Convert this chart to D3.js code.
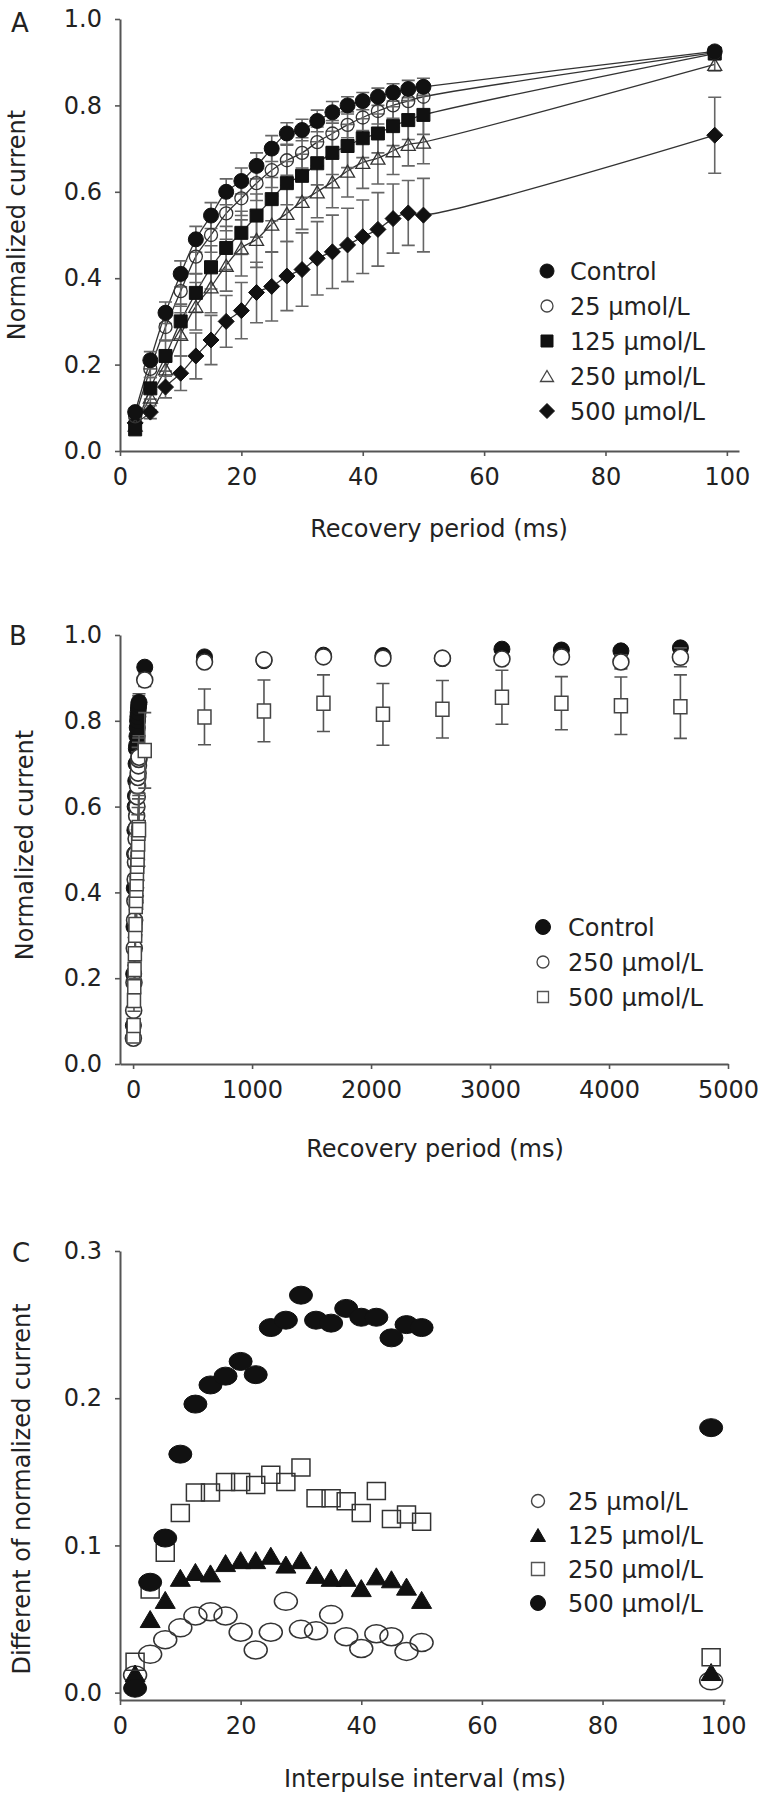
<!DOCTYPE html>
<html><head><meta charset="utf-8">
<script src="https://cdn.jsdelivr.net/npm/d3@7"></script>
<style>
body{margin:0;background:#fff}
svg{display:block;background:#fff}
text{font-family:"DejaVu Sans",sans-serif;fill:#222}
</style>
</head><body>
<svg id="chart" width="762" height="1795"></svg>
<script>
// ---------- Panel A data ----------
const aX = [2.5,5,7.5,10,12.5,15,17.5,20,22.5,25,27.5,30,32.5,35,37.5,40,42.5,45,47.5,50,98];
const aControl = [0.09,0.21,0.32,0.41,0.49,0.545,0.60,0.625,0.66,0.70,0.735,0.743,0.764,0.784,0.80,0.81,0.82,0.83,0.838,0.843,0.925];
const aControlErr = [0.01,0.02,0.025,0.03,0.03,0.03,0.03,0.03,0.03,0.03,0.025,0.025,0.025,0.025,0.02,0.02,0.02,0.02,0.02,0.02,0.01];
const a25 = [0.08,0.19,0.287,0.37,0.45,0.50,0.55,0.585,0.62,0.65,0.673,0.69,0.715,0.735,0.755,0.772,0.787,0.80,0.81,0.82,0.922];
const a25Err = [0.01,0.02,0.03,0.035,0.04,0.04,0.04,0.04,0.04,0.04,0.035,0.035,0.035,0.03,0.03,0.03,0.03,0.03,0.03,0.03,0.01];
const a125 = [0.05,0.145,0.22,0.30,0.366,0.425,0.47,0.505,0.545,0.583,0.62,0.637,0.666,0.69,0.706,0.724,0.735,0.752,0.766,0.778,0.92];
const a125Err = [0.01,0.025,0.035,0.04,0.045,0.05,0.05,0.05,0.05,0.05,0.05,0.05,0.05,0.05,0.05,0.045,0.045,0.045,0.045,0.045,0.01];
const a250 = [0.06,0.125,0.19,0.27,0.335,0.38,0.43,0.47,0.49,0.525,0.55,0.578,0.60,0.623,0.648,0.668,0.678,0.695,0.71,0.715,0.895];
const a250Err = [0.01,0.03,0.04,0.05,0.055,0.06,0.06,0.065,0.065,0.065,0.065,0.065,0.06,0.06,0.06,0.06,0.06,0.055,0.05,0.05,0.015];
const a500 = [0.065,0.09,0.148,0.18,0.22,0.257,0.30,0.325,0.367,0.381,0.405,0.42,0.446,0.461,0.477,0.496,0.513,0.538,0.551,0.546,0.731];
const a500Err = [0.01,0.015,0.025,0.04,0.053,0.057,0.06,0.065,0.07,0.08,0.08,0.085,0.085,0.085,0.085,0.085,0.085,0.08,0.075,0.085,0.088];
const aLabels = ["Control","25 µmol/L","125 µmol/L","250 µmol/L","500 µmol/L"];
const aXTicks = [0,20,40,60,80,100];
const aYTicks = [0,0.2,0.4,0.6,0.8,1.0];

// ---------- Panel B data ----------
const bLongX = [600,1100,1600,2100,2600,3100,3600,4100,4600];
const bControlLong = [0.949,0.94,0.953,0.952,0.945,0.967,0.965,0.963,0.97];
const bControlLongErr = [0.005,0.005,0.005,0.005,0.005,0.005,0.005,0.005,0.005];
const b250Long = [0.937,0.942,0.949,0.946,0.946,0.944,0.949,0.937,0.948];
const b250LongErr = [0.008,0.006,0.008,0.006,0.006,0.01,0.01,0.016,0.022];
const b500Long = [0.809,0.823,0.841,0.815,0.827,0.855,0.841,0.835,0.833];
const b500LongErr = [0.065,0.072,0.066,0.072,0.067,0.063,0.062,0.067,0.074];
const bLabels = ["Control","250 µmol/L","500 µmol/L"];
const bXTicks = [0,1000,2000,3000,4000,5000];
const bYTicks = [0,0.2,0.4,0.6,0.8,1.0];

// ---------- Panel C data ----------
const cX = [2.5,5,7.5,10,12.5,15,17.5,20,22.5,25,27.5,30,32.5,35,37.5,40,42.5,45,47.5,50,98];
const c25 = [0.012,0.026,0.036,0.044,0.052,0.055,0.052,0.041,0.029,0.041,0.062,0.043,0.042,0.053,0.038,0.030,0.040,0.038,0.028,0.034,0.008];
const c125 = [0.013,0.05,0.063,0.078,0.082,0.081,0.088,0.090,0.090,0.093,0.087,0.090,0.080,0.078,0.078,0.071,0.079,0.077,0.072,0.063,0.014];
const c250 = [0.021,0.07,0.095,0.122,0.136,0.136,0.143,0.143,0.141,0.148,0.143,0.153,0.132,0.132,0.130,0.122,0.137,0.118,0.121,0.116,0.024];
const c500 = [0.003,0.075,0.105,0.162,0.196,0.209,0.215,0.225,0.216,0.248,0.253,0.270,0.253,0.251,0.261,0.255,0.255,0.241,0.250,0.248,0.180];
const cLabels = ["25 µmol/L","125 µmol/L","250 µmol/L","500 µmol/L"];
const cXTicks = [0,20,40,60,80,100];
const cYTicks = [0,0.1,0.2,0.3];

// ---------- helpers ----------
const svg = d3.select('#chart');
const FONT = '"DejaVu Sans", sans-serif';

function markerPath(shape, w, h){
  const a=w/2, b=h/2;
  switch(shape){
    case 'circle': return `M${-a},0A${a},${b} 0 1,0 ${a},0A${a},${b} 0 1,0 ${-a},0Z`;
    case 'square': return `M${-a},${-b}H${a}V${b}H${-a}Z`;
    case 'triangle': return `M0,${-b}L${a},${b}L${-a},${b}Z`;
    case 'diamond': return `M0,${-b}L${a},0L0,${b}L${-a},0Z`;
  }
}

function axes(xs, ys, xTicks, yTicks, xAxisY, yAxisX, fmtY){
  const gx = svg.append('g').attr('transform',`translate(0,${xAxisY})`)
    .call(d3.axisBottom(xs).tickValues(xTicks).tickFormat(d3.format('d')).tickSize(5).tickPadding(12).tickSizeOuter(0));
  const gy = svg.append('g').attr('transform',`translate(${yAxisX},0)`)
    .call(d3.axisLeft(ys).tickValues(yTicks).tickFormat(d3.format(fmtY)).tickSize(5).tickPadding(13).tickSizeOuter(0));
  [gx,gy].forEach(g=>{
    g.attr('font-size',24).attr('font-family',FONT);
    g.select('.domain').attr('stroke','#555').attr('stroke-width',2);
    g.selectAll('.tick line').attr('stroke','#555').attr('stroke-width',1.6);
    g.selectAll('.tick text').attr('fill','#222');
  });
}

function errorBars(g, xs, ys, xv, yv, ev, capW, color){
  const d = xv.map((x,i)=>({x, y:yv[i], e:ev[i]})).filter(p=>p.e>0);
  const eg = g.append('g').attr('stroke',color).attr('stroke-width',1.6).attr('fill','none');
  eg.selectAll('path').data(d).join('path')
    .attr('d', p=>{
      const cx = xs(p.x), y1 = ys(p.y+p.e), y2 = ys(p.y-p.e);
      return `M${cx},${y1}V${y2}M${cx-capW/2},${y1}H${cx+capW/2}M${cx-capW/2},${y2}H${cx+capW/2}`;
    });
}

function markers(g, xs, ys, xv, yv, st){
  g.append('g').selectAll('path').data(xv.map((x,i)=>({x, y:yv[i]}))).join('path')
    .attr('transform', p=>`translate(${xs(p.x)},${ys(p.y)})`)
    .attr('d', markerPath(st.shape, st.w, st.h))
    .attr('fill', st.fill).attr('stroke', st.stroke).attr('stroke-width', st.sw);
}

function legend(items, x, tx, y0, dy){
  items.forEach((it,i)=>{
    const y = y0 + i*dy;
    svg.append('path').attr('transform',`translate(${x},${y})`)
      .attr('d', markerPath(it.shape, it.w, it.h))
      .attr('fill', it.fill).attr('stroke', it.stroke).attr('stroke-width', it.sw);
    svg.append('text').attr('x', tx).attr('y', y).attr('dy','0.36em')
      .attr('font-size',24).attr('font-family',FONT).text(it.label);
  });
}

function yLabel(text, bx, cy){
  svg.append('text').attr('transform',`translate(${bx},${cy}) rotate(-90)`)
    .attr('text-anchor','middle').attr('font-size',24).attr('font-family',FONT).text(text);
}
function xLabel(text, cx, by){
  svg.append('text').attr('x',cx).attr('y',by).attr('text-anchor','middle')
    .attr('font-size',24).attr('font-family',FONT).text(text);
}
function panelLabel(t, x, y){
  svg.append('text').attr('x',x).attr('y',y).attr('font-size',26).attr('font-family',FONT).text(t);
}

// ---------- Panel A ----------
{
  const xs = d3.scaleLinear([0,102],[120,739]);
  const ys = d3.scaleLinear([0,1],[451,19]);
  axes(xs, ys, aXTicks, aYTicks, ys(0), xs(0), '.1f');
  const g = svg.append('g');
  const series = [
    {v:a500, e:a500Err, st:{shape:'diamond',w:16,h:16,fill:'#111',stroke:'#111',sw:1}},
    {v:a250, e:a250Err, st:{shape:'triangle',w:14,h:12,fill:'none',stroke:'#333',sw:1.3}},
    {v:a125, e:a125Err, st:{shape:'square',w:13,h:13,fill:'#111',stroke:'#111',sw:1}},
    {v:a25, e:a25Err, st:{shape:'circle',w:13,h:13,fill:'none',stroke:'#333',sw:1.3}},
    {v:aControl, e:aControlErr, st:{shape:'circle',w:15,h:15,fill:'#111',stroke:'#111',sw:1}}
  ];
  const line = d3.line().x((d,i)=>xs(aX[i])).y(d=>ys(d)).curve(d3.curveCatmullRom.alpha(0.5));
  series.forEach(s=> g.append('path').attr('d', line(s.v)).attr('fill','none').attr('stroke','#333').attr('stroke-width',1.3));
  series.forEach(s=> errorBars(g, xs, ys, aX, s.v, s.e, 13, '#666'));
  series.forEach(s=> markers(g, xs, ys, aX, s.v, s.st));
  const ls = series.slice().reverse();
  legend([
    {label:aLabels[0], shape:'circle', w:14,h:14, fill:'#111', stroke:'#111', sw:1},
    {label:aLabels[1], shape:'circle', w:12,h:12, fill:'none', stroke:'#444', sw:1.3},
    {label:aLabels[2], shape:'square', w:12,h:12, fill:'#111', stroke:'#111', sw:1},
    {label:aLabels[3], shape:'triangle', w:13,h:11, fill:'none', stroke:'#444', sw:1.3},
    {label:aLabels[4], shape:'diamond', w:15,h:15, fill:'#111', stroke:'#111', sw:1}
  ], 547, 570, 271, 35);
  yLabel('Normalized current', 25, 225);
  xLabel('Recovery period (ms)', 439, 537);
  panelLabel('A', 11, 32);
}

// ---------- Panel B ----------
{
  const xs = d3.scaleLinear([-110,5000],[120,728]);
  const ys = d3.scaleLinear([0,1],[1064,635]);
  axes(xs, ys, bXTicks, bYTicks, ys(0), xs(-110), '.1f');
  const g = svg.append('g');
  const xv = aX.concat(bLongX);
  const series = [
    {v:aControl.concat(bControlLong), e:aControlErr.concat(bControlLongErr), st:{shape:'circle',w:16,h:16,fill:'#111',stroke:'#111',sw:1}},
    {v:a250.concat(b250Long), e:a250Err.concat(b250LongErr), st:{shape:'circle',w:16,h:16,fill:'#fff',stroke:'#333',sw:1.6}},
    {v:a500.concat(b500Long), e:a500Err.concat(b500LongErr), st:{shape:'square',w:13,h:14,fill:'#fff',stroke:'#444',sw:1.5}}
  ];
  series.forEach(s=>{
    errorBars(g, xs, ys, xv, s.v, s.e, 13, '#555');
    markers(g, xs, ys, xv, s.v, s.st);
  });
  legend([
    {label:bLabels[0], shape:'circle', w:15,h:15, fill:'#111', stroke:'#111', sw:1},
    {label:bLabels[1], shape:'circle', w:12,h:12, fill:'#fff', stroke:'#444', sw:1.3},
    {label:bLabels[2], shape:'square', w:11,h:11, fill:'#fff', stroke:'#555', sw:1.3}
  ], 543, 568, 927, 35);
  yLabel('Normalized current', 33, 845);
  xLabel('Recovery period (ms)', 435, 1157);
  panelLabel('B', 9, 645);
}

// ---------- Panel C ----------
{
  const xs = d3.scaleLinear([0,100.3],[120,725]);
  const ys = d3.scaleLinear([-0.005,0.3],[1700,1251]);
  axes(xs, ys, cXTicks, cYTicks, 1700, 120, '.1f');
  const g = svg.append('g');
  markers(g, xs, ys, cX, c25, {shape:'circle',w:23,h:18,fill:'none',stroke:'#333',sw:1.5});
  markers(g, xs, ys, cX, c125, {shape:'triangle',w:20,h:17,fill:'#111',stroke:'#111',sw:1});
  markers(g, xs, ys, cX, c250, {shape:'square',w:18,h:17,fill:'none',stroke:'#333',sw:1.5});
  markers(g, xs, ys, cX, c500, {shape:'circle',w:23,h:18,fill:'#111',stroke:'#111',sw:1});
  legend([
    {label:cLabels[0], shape:'circle', w:13,h:13, fill:'none', stroke:'#444', sw:1.4},
    {label:cLabels[1], shape:'triangle', w:15,h:13, fill:'#111', stroke:'#111', sw:1},
    {label:cLabels[2], shape:'square', w:13,h:13, fill:'none', stroke:'#555', sw:1.4},
    {label:cLabels[3], shape:'circle', w:15,h:15, fill:'#111', stroke:'#111', sw:1}
  ], 538, 568, 1501, 34);
  yLabel('Different of normalized current', 30, 1489);
  xLabel('Interpulse interval (ms)', 425, 1787);
  panelLabel('C', 12, 1262);
}
</script>
</body></html>
